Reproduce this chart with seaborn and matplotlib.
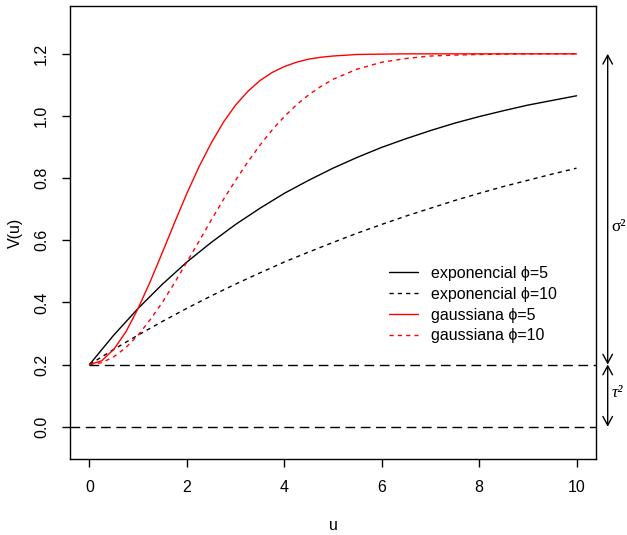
import matplotlib
matplotlib.use("Agg")
import matplotlib.pyplot as plt
import pandas as pd
import seaborn as sns

# values (variogram models)
u_exp = [0, 0.5, 1, 1.5, 2, 2.5, 3, 3.5, 4, 4.5, 5, 5.5, 6, 6.5, 7, 7.5, 8, 8.5, 9, 9.5, 10]
exp5 = [0.200, 0.295, 0.381, 0.459, 0.530, 0.593, 0.651, 0.703, 0.751, 0.793, 0.832,
        0.867, 0.899, 0.927, 0.953, 0.977, 0.998, 1.017, 1.035, 1.050, 1.065]
exp10 = [0.200, 0.249, 0.295, 0.339, 0.381, 0.421, 0.459, 0.495, 0.530, 0.562, 0.593,
         0.623, 0.651, 0.678, 0.703, 0.728, 0.751, 0.773, 0.793, 0.813, 0.832]

u_gau = [0, 0.25, 0.5, 0.75, 1, 1.25, 1.5, 1.75, 2, 2.25, 2.5, 2.75, 3, 3.25, 3.5, 3.75,
         4, 4.25, 4.5, 4.75, 5, 5.5, 6, 6.5, 7, 7.5, 8, 9, 10]
gau5 = [0.200, 0.212, 0.249, 0.306, 0.381, 0.468, 0.562, 0.658, 0.751, 0.837, 0.913,
        0.980, 1.035, 1.079, 1.114, 1.140, 1.159, 1.173, 1.183, 1.189, 1.193,
        1.198, 1.199, 1.200, 1.200, 1.200, 1.200, 1.200, 1.200]
gau10 = [0.200, 0.206, 0.225, 0.255, 0.295, 0.345, 0.401, 0.464, 0.530, 0.597, 0.665,
         0.731, 0.793, 0.852, 0.906, 0.955, 0.998, 1.036, 1.068, 1.095, 1.118,
         1.151, 1.173, 1.185, 1.193, 1.196, 1.198, 1.200, 1.200]

labels = ["exponencial \u03d5=5", "exponencial \u03d5=10", "gaussiana \u03d5=5", "gaussiana \u03d5=10"]
nugget = 0.2
sill = 1.2
x_ticks = [0, 2, 4, 6, 8, 10]
y_ticks = [0.0, 0.2, 0.4, 0.6, 0.8, 1.0, 1.2]

sns.set_style("ticks")
plt.rcParams["font.family"] = ["Liberation Sans", "DejaVu Sans"]
plt.rcParams["font.size"] = 11.5
plt.rcParams["text.color"] = "black"
plt.rcParams["axes.labelcolor"] = "black"
plt.rcParams["xtick.color"] = "black"
plt.rcParams["ytick.color"] = "black"

fig = plt.figure(figsize=(6.27, 5.35), dpi=100)
ax = fig.add_axes([70 / 627, 76 / 535, 526 / 627, 453 / 535])

short_dash = (0, (3, 3))
long_dash = (0, (7, 4))

df_exp = pd.DataFrame({"u": u_exp, "e5": exp5, "e10": exp10})
df_gau = pd.DataFrame({"u": u_gau, "g5": gau5, "g10": gau10})

sns.lineplot(data=df_exp, x="u", y="e5", ax=ax, color="black", lw=1, label=labels[0])
sns.lineplot(data=df_exp, x="u", y="e10", ax=ax, color="black", lw=1,
             linestyle=short_dash, label=labels[1])
sns.lineplot(data=df_gau, x="u", y="g5", ax=ax, color="red", lw=1, label=labels[2])
sns.lineplot(data=df_gau, x="u", y="g10", ax=ax, color="red", lw=1,
             linestyle=short_dash, label=labels[3])

# reference lines for nugget and zero
ax.hlines(nugget, 0, 10.4, colors="black", lw=1, linestyles=[long_dash])
ax.axhline(0, color="black", lw=1, linestyle=long_dash)

ax.set_xlim(-0.4, 10.4)
ax.set_ylim(-0.104, 1.354)
ax.set_xticks(x_ticks)
ax.set_yticks(y_ticks)
ax.set_xticklabels([str(t) for t in x_ticks])
ax.set_yticklabels(["%.1f" % t for t in y_ticks], rotation=90, va="center")
ax.tick_params(axis="both", direction="out", length=6, width=1, color="black",
               labelcolor="black", labelsize=11.5, pad=9)
for s in ax.spines.values():
    s.set_visible(True)
    s.set_linewidth(1)
    s.set_color("black")

ax.set_xlabel("u", fontsize=11.5, labelpad=17)
ax.set_ylabel("V(u)", fontsize=11.5, labelpad=8)

leg = ax.legend(loc="upper left", bbox_to_anchor=(0.606, 0.426), frameon=False,
                borderpad=0, borderaxespad=0, handlelength=1.85, handletextpad=0.8,
                labelspacing=0.36, fontsize=11.5)

# sill and nugget arrows outside the plot area
arr = dict(arrowstyle="<->,head_length=0.55,head_width=0.3", lw=1, color="black",
           shrinkA=0, shrinkB=0)
ax.annotate("", xy=(10.64, nugget), xytext=(10.64, sill), arrowprops=arr,
            annotation_clip=False)
ax.annotate("", xy=(10.64, 0.0), xytext=(10.64, nugget), arrowprops=arr,
            annotation_clip=False)
ax.text(10.71, 0.643, "\u03c3\u00b2", fontsize=12.5, family="Liberation Serif",
        ha="left", va="center", clip_on=False)
ax.text(10.72, 0.107, "\u03c4\u00b2", fontsize=12.5, family="Liberation Serif",
        style="italic", ha="left", va="center", clip_on=False)

fig.savefig("out.png", dpi=100)
